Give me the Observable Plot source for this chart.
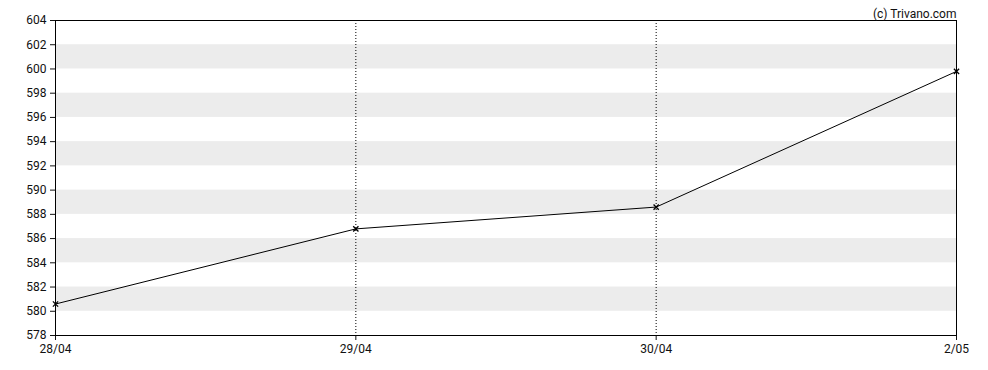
<!DOCTYPE html>
<html><head><meta charset="utf-8">
<script src="https://cdn.jsdelivr.net/npm/d3@7"></script>
<script src="https://cdn.jsdelivr.net/npm/@observablehq/plot@0.6"></script>
<style>body{margin:0;background:#fff;font-family:Roboto,"Liberation Sans",sans-serif}</style>
</head><body><div id="chart"></div>
<script>
const dates = ["28/04", "29/04", "30/04", "2/05"];
const prices = [580.6, 586.8, 588.6, 599.8];
const yTicks = [578, 580, 582, 584, 586, 588, 590, 592, 594, 596, 598, 600, 602, 604];
const bandStarts = [580, 584, 588, 592, 596, 600];
const dividerDates = ["29/04", "30/04"];
const credit = "(c) Trivano.com";

const data = dates.map((d, i) => ({i, d, v: prices[i]}));
const bands = bandStarts.map(b => ({y1: b, y2: b + 2}));
const idx = d => dates.indexOf(d);

const chart = Plot.plot({
  width: 988, height: 370,
  marginLeft: 55, marginRight: 32, marginTop: 20, marginBottom: 35,
  style: {fontFamily: "Roboto, 'Liberation Sans', sans-serif", fontSize: "12px", color: "#111"},
  x: {type: "linear", domain: [0, dates.length - 1], ticks: dates.map((d, i) => i), tickFormat: i => dates[i], tickSize: 5, label: null},
  y: {domain: [578, 604], ticks: yTicks, tickSize: 5, label: null, tickFormat: d => String(d)},
  marks: [
    Plot.rect(bands, {x1: 0, x2: dates.length - 1, y1: "y1", y2: "y2", fill: "#ececec"}),
    Plot.ruleX(dividerDates.map(idx), {stroke: "#000", strokeDasharray: "1,2", strokeWidth: 1}),
    Plot.frame({stroke: "#000"}),
    Plot.line(data, {x: "i", y: "v", stroke: "#000", strokeWidth: 1}),
    Plot.dot(data, {x: "i", y: "v", symbol: "times", r: 2.5, stroke: "#000", strokeWidth: 1.3}),
    Plot.text([credit], {text: d => d, frameAnchor: "top-right", dy: -11, textAnchor: "end", fill: "#111", fontSize: 12})
  ]
});
document.getElementById("chart").appendChild(chart);
</script>
</body></html>
